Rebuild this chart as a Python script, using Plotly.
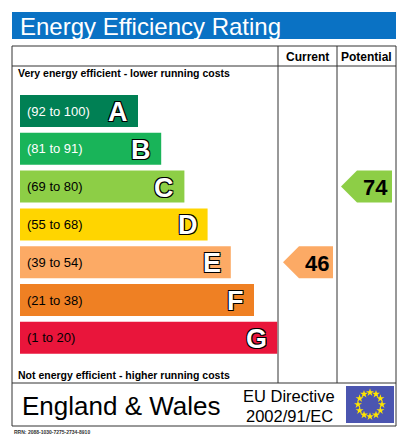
import math
import plotly.graph_objects as go

bands = ["A", "B", "C", "D", "E", "F", "G"]
ranges = ["(92 to 100)", "(81 to 91)", "(69 to 80)", "(55 to 68)", "(39 to 54)", "(21 to 38)", "(1 to 20)"]
colors = ["#008054", "#19b459", "#8dce46", "#ffd500", "#fcaa65", "#ef8023", "#e9153b"]
lows = [92, 81, 69, 55, 39, 21, 1]
current = 46
potential = 74

W, H = 413, 437
OFF = 8  # page body margin
fig = go.Figure()
shapes = []
ann = []
F = "Liberation Sans"

# frame
shapes.append(dict(type="rect", x0=12, x1=396, y0=12, y1=39, fillcolor="#0a72c4", line_width=0))
ann.append(dict(x=18, y=26, text="Energy Efficiency Rating", xanchor="left", showarrow=False,
                font=dict(family=F, size=24, color="white")))
shapes.append(dict(type="rect", x0=12, x1=396, y0=46, y1=426, line=dict(color="#333", width=1)))
for y in (66, 383):
    shapes.append(dict(type="line", x0=12, x1=396, y0=y, y1=y, line=dict(color="#333", width=1)))
for x in (278, 337):
    shapes.append(dict(type="line", x0=x, x1=x, y0=46, y1=383, line=dict(color="#333", width=1)))
ann.append(dict(x=307.5, y=57, text="<b>Current</b>", showarrow=False, font=dict(family=F, size=12, color="black")))
ann.append(dict(x=366.5, y=57, text="<b>Potential</b>", showarrow=False, font=dict(family=F, size=12, color="black")))
ann.append(dict(x=16, y=73, text="<b>Very energy efficient - lower running costs</b>", xanchor="left", showarrow=False,
                font=dict(family=F, size=10.5, color="black")))
ann.append(dict(x=16, y=375, text="<b>Not energy efficient - higher running costs</b>", xanchor="left", showarrow=False,
                font=dict(family=F, size=10.5, color="black")))

outline = "-1px -1px 0 #000, 1px -1px 0 #000, -1px 1px 0 #000, 1px 1px 0 #000"
for i, b in enumerate(bands):
    y0 = 95 + i * 37.8
    y1 = y0 + 32
    x1 = 138 + i * 23.2
    shapes.append(dict(type="rect", x0=20, x1=x1, y0=y0, y1=y1, fillcolor=colors[i], line_width=0))
    ann.append(dict(x=25, y=(y0 + y1) / 2, text=ranges[i], xanchor="left", showarrow=False,
                    font=dict(family=F, size=13, color="white" if i in (0, 1) else "black")))
    ann.append(dict(x=x1 - 8, y=(y0 + y1) / 2 + 1, text="<b>%s</b>" % b, xanchor="right", showarrow=False,
                    font=dict(family=F, size=27, color="white", shadow=outline)))


def band_of(v):
    for i, lo in enumerate(lows):
        if v >= lo:
            return i
    return len(lows) - 1


for v, xa, xb in ((current, 283, 333), (potential, 341, 392)):
    i = band_of(v)
    y0 = 95 + i * 37.8
    y1 = y0 + 32
    ym = (y0 + y1) / 2
    tip = xa + 16
    path = "M %f %f L %f %f L %f %f L %f %f L %f %f Z" % (xa, ym, tip, y0, xb, y0, xb, y1, tip, y1)
    shapes.append(dict(type="path", path=path, fillcolor=colors[i], line_width=0))
    ann.append(dict(x=(tip + xb) / 2 + 1, y=ym + 1, text="<b>%d</b>" % v, showarrow=False,
                    font=dict(family=F, size=22, color="black")))

# footer
ann.append(dict(x=20, y=406, text="England & Wales", xanchor="left", showarrow=False,
                font=dict(family=F, size=26, color="black")))
ann.append(dict(x=289, y=396, text="EU Directive", showarrow=False, font=dict(family=F, size=16.5, color="black")))
ann.append(dict(x=289, y=416, text="2002/91/EC", showarrow=False, font=dict(family=F, size=16.5, color="black")))
shapes.append(dict(type="rect", x0=346, x1=394, y0=386, y1=423, fillcolor="#4b55b0", line_width=0, layer="below"))
sx, sy = [], []
for k in range(12):
    a = 2 * math.pi * k / 12
    sx.append(370 + 12 * math.cos(a))
    sy.append(404.5 + 12 * math.sin(a))
fig.add_trace(go.Scatter(x=sx, y=sy, mode="markers", marker=dict(symbol="star", size=6, color="#ffe500", line_width=0),
                         hoverinfo="skip", showlegend=False))
ann.append(dict(x=12, y=432, text="<b>RRN: 2088-1030-7275-2734-8910</b>", xanchor="left", showarrow=False,
                font=dict(family=F, size=5, color="#333")))

fig.update_layout(width=W - OFF, height=H - OFF, margin=dict(l=0, r=0, t=0, b=0), plot_bgcolor="white",
                  paper_bgcolor="white", shapes=shapes, annotations=ann,
                  xaxis=dict(range=[OFF, W], visible=False, fixedrange=True),
                  yaxis=dict(range=[H, OFF], visible=False, fixedrange=True))
fig.write_html("out.html", config={"displayModeBar": False})
